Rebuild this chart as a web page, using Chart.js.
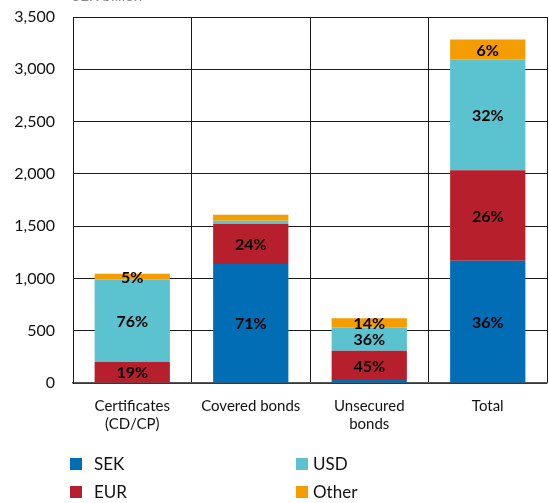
<!DOCTYPE html>
<html>
<head>
<meta charset="utf-8">
<script src="https://cdn.jsdelivr.net/npm/chart.js@4.4.1/dist/chart.umd.min.js"></script>
<style>
  html, body { margin: 0; padding: 0; background: #fff; overflow: hidden; }
  #wrap { position: relative; width: 549px; height: 503px; }
  #unit { position: absolute; left: 72px; top: -14px; font: 15px Lato, sans-serif; color: #8c8c8c; }
</style>
</head>
<body>
<div id="wrap">
  <div id="unit">SEK billion</div>
  <canvas id="c" width="549" height="503"></canvas>
</div>
<script>
// Outstanding funding by instrument and currency, SEK billion
const categories = [["Certificates", "(CD/CP)"], "Covered bonds", ["Unsecured", "bonds"], "Total"];
const sek   = [0, 1138, 28, 1168];
const eur   = [200, 382, 280, 866];
const usd   = [790, 32, 222, 1058];
const other = [55, 57, 88, 194];
const yTicks = [0, 500, 1000, 1500, 2000, 2500, 3000, 3500];

const seriesNames  = ["SEK", "EUR", "USD", "Other"];
const seriesColors = ["#006db5", "#b81f2d", "#5bc2cf", "#f59c00"];
const seriesValues = [sek, eur, usd, other];

const FONT = "Lato, 'Open Sans', sans-serif";

// Share of each segment within its bar, printed when large enough
const shareLabels = {
  id: "shareLabels",
  afterDatasetsDraw(chart) {
    const ctx = chart.ctx;
    const ds = chart.data.datasets;
    ctx.save();
    ctx.font = "bold 16px " + FONT;
    ctx.fillStyle = "#000";
    ctx.textAlign = "center";
    ctx.textBaseline = "middle";
    chart.data.labels.forEach((_, i) => {
      const total = ds.reduce((s, d) => s + d.data[i], 0);
      ds.forEach((d, k) => {
        const pct = d.data[i] / total * 100;
        if (pct < 4.8) return;
        const el = chart.getDatasetMeta(k).data[i];
        ctx.fillText(Math.round(pct) + "%", el.x, (el.y + el.base) / 2 + 1);
      });
    });
    ctx.restore();
  }
};

// Two-column legend below the axis
const gridLegend = {
  id: "gridLegend",
  afterDraw(chart) {
    const ctx = chart.ctx;
    const order = [[0, 70, 458], [2, 296, 458], [1, 70, 486], [3, 296, 486]];
    ctx.save();
    ctx.font = "17px " + FONT;
    ctx.textBaseline = "middle";
    order.forEach(([k, x, y]) => {
      const d = chart.data.datasets[k];
      ctx.fillStyle = d.backgroundColor;
      ctx.fillRect(x, y, 12, 12);
      ctx.fillStyle = "#111";
      ctx.fillText(d.label, x + (k === 2 || k === 3 ? 17 : 24), y + 7);
    });
    ctx.restore();
  }
};

new Chart(document.getElementById("c"), {
  type: "bar",
  data: {
    labels: categories,
    datasets: seriesNames.map((name, k) => ({
      label: name,
      data: seriesValues[k],
      backgroundColor: seriesColors[k],
      borderWidth: 0,
      categoryPercentage: 1,
      barPercentage: 0.635
    }))
  },
  options: {
    responsive: false,
    animation: false,
    layout: { padding: { top: 17, right: 2, left: 0, bottom: 0 } },
    plugins: { legend: { display: false }, tooltip: { enabled: false } },
    scales: {
      x: {
        stacked: true,
        grid: { color: "#1a1a1a", lineWidth: 1, offset: true, drawTicks: false },
        border: { color: "#555", width: 1.5 },
        ticks: { color: "#111", font: { family: FONT, size: 15 }, padding: 14, maxRotation: 0 },
        afterFit(scale) { scale.height = 120; scale.paddingLeft = 0; scale.paddingRight = 0; }
      },
      y: {
        stacked: true,
        min: 0,
        max: 3500,
        afterBuildTicks(scale) { scale.ticks = yTicks.map(v => ({ value: v })); },
        grid: { color: "#1a1a1a", lineWidth: 1, drawTicks: false },
        border: { color: "#1a1a1a", width: 1 },
        ticks: {
          color: "#111",
          font: { family: FONT, size: 16 },
          padding: 18,
          callback: v => v.toLocaleString("en-US")
        },
        afterFit(scale) { scale.width = 73; scale.paddingTop = 0; scale.paddingBottom = 0; }
      }
    }
  },
  plugins: [shareLabels, gridLegend]
});
</script>
</body>
</html>
